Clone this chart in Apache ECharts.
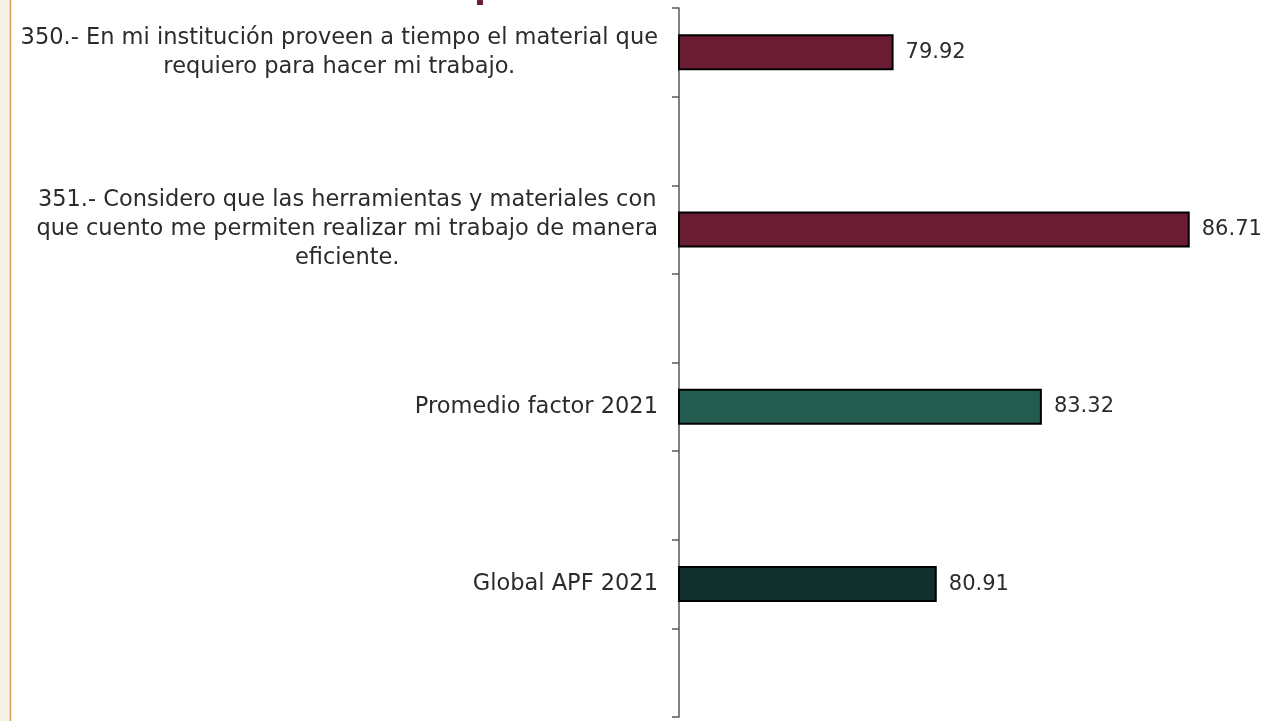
<!DOCTYPE html>
<html>
<head>
<meta charset="utf-8">
<script src="https://cdn.jsdelivr.net/npm/echarts@6/dist/echarts.min.js"></script>
<style>
html,body{margin:0;padding:0;background:#fff;}
#c{width:1263px;height:721px;}
</style>
</head>
<body>
<div id="c"></div>
<script>
const categories = [
  "350.- En mi institución proveen a tiempo el material que\nrequiero para hacer mi trabajo.",
  "",
  "351.- Considero que las herramientas y materiales con\nque cuento me permiten realizar mi trabajo de manera\neficiente.",
  "",
  "Promedio factor 2021",
  "",
  "Global APF 2021",
  ""
];
const values = [79.92, null, 86.71, null, 83.32, null, 80.91, null];
const barColors = ["#6a1c32", null, "#6a1c32", null, "#235b4e", null, "#10312b", null];

const chart = echarts.init(document.getElementById('c'), null, {renderer: 'canvas'});
const FONT = "DejaVu Sans";
const FS = 22.5;
chart.setOption({
  animation: false,
  backgroundColor: '#ffffff',
  graphic: [
    {type: 'rect', shape: {x: 0, y: 0, width: 10, height: 721}, style: {fill: '#f6f1e7'}, z: -10},
    {type: 'line', shape: {x1: 10.5, y1: 0, x2: 10.5, y2: 721}, style: {stroke: '#d4a25a', lineWidth: 1.5}, z: -9},
    {type: 'rect', shape: {x: 477, y: 0, width: 6, height: 5}, style: {fill: '#6a1c32'}}
  ],
  grid: {left: 679, top: 8, bottom: 4, right: 17, containLabel: false},
  xAxis: {
    type: 'value', min: 75, max: 88, show: false
  },
  yAxis: {
    type: 'category',
    data: categories,
    inverse: true,
    axisLine: {show: true, lineStyle: {color: '#595959', width: 1.5}},
    axisTick: {show: true, length: 7, lineStyle: {color: '#595959', width: 1.5}},
    splitLine: {show: false},
    axisLabel: {
      margin: 21,
      fontFamily: FONT,
      fontSize: FS,
      color: '#2b2b2b',
      lineHeight: 29,
      formatter: function (v) {
        if (!v) return '';
        return v.split('\n').map(l => '{a|' + l + '}').join('\n');
      },
      rich: {a: {align: 'center', fontFamily: FONT, fontSize: FS, color: '#2b2b2b', lineHeight: 29}}
    }
  },
  series: [{
    type: 'bar',
    data: values.map((v, i) => v == null ? null : {value: v, itemStyle: {color: barColors[i]}}),
    barWidth: 36,
    itemStyle: {borderColor: '#000000', borderWidth: 2},
    label: {
      show: true, position: 'right', distance: 12,
      fontFamily: FONT, fontSize: 21, color: '#2b2b2b',
      formatter: p => p.value.toFixed(2)
    }
  }]
});
</script>
</body>
</html>
